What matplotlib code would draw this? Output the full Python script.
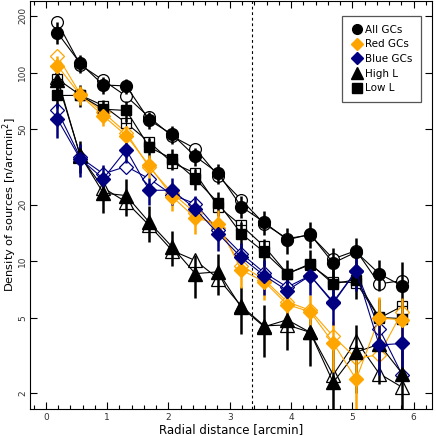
import matplotlib
matplotlib.use("Agg")
import matplotlib.pyplot as plt
from matplotlib.ticker import FixedLocator, MultipleLocator, NullLocator

# radial bin centres [arcmin]
r = [0.1875, 0.5625, 0.9375, 1.3125, 1.6875, 2.0625, 2.4375, 2.8125,
     3.1875, 3.5625, 3.9375, 4.3125, 4.6875, 5.0625, 5.4375, 5.8125]

# filled symbols (with errors) and open symbols (second estimate)
all_f = [163, 112, 86, 85, 56, 47, 36, 29.3, 19.5, 16.1, 13.0, 13.9, 9.8, 11.2, 8.6, 7.4]
all_e = [22, 12, 9, 8, 6, 5, 4, 3.5, 2.6, 2.3, 2.0, 2.2, 2.0, 2.1, 1.6, 2.5]
all_o = [185, 110, 91, 75, 58, 46, 39.6, 28.3, 21.2, 15.8, 13.2, 13.8, 10.3, 11.4, 7.6, 7.9]

red_f = [109, 76, 59, 46.4, 32.2, 22, 17, 15.8, 9.0, 7.8, 5.9, 5.4, 3.7, 2.37, 5.0, 4.9]
red_e = [14, 9, 7, 6, 4.5, 3.5, 3, 2.8, 1.8, 1.6, 1.3, 1.2, 1.1, 0.9, 1.5, 1.5]
red_o = [123, 77, 61.5, 48, 31.5, 23, 18, 15, 9.5, 8.0, 6.1, 5.5, 4.0, 3.06, 3.2, 5.4]

blue_f = [56.9, 34.9, 27.4, 39, 23.8, 23.8, 19.0, 14.0, 10.5, 8.4, 7.0, 8.4, 6.1, 8.9, 3.6, 3.67]
blue_e = [12, 7, 5, 6, 4, 3.8, 3.2, 2.6, 2.0, 1.8, 1.5, 1.8, 1.5, 1.9, 1.1, 1.2]
blue_o = [63, 35.5, 29.1, 31.8, 27.4, 22.5, 20.2, 14.6, 11.0, 8.7, 7.3, 8.4, 6.0, 8.9, 4.4, 2.5]

high_f = [91, 36.4, 23, 22.3, 16.1, 11.9, 8.6, 8.8, 5.7, 4.5, 4.9, 4.2, 2.28, 3.3, 3.64, 2.54]
high_e = [14, 7, 5, 5, 3.5, 2.5, 2.2, 2.2, 1.6, 1.4, 1.5, 1.4, 1.5, 1.3, 1.4, 1.0]
high_o = [94.5, 36, 24.5, 20.6, 15.5, 11.4, 10.1, 8.1, 5.8, 4.55, 4.6, 4.2, 2.5, 3.8, 2.54, 2.15]

low_f = [75.7, 75.7, 64, 63, 40.3, 34.9, 27.4, 20.4, 14.0, 11.2, 8.6, 9.7, 7.6, 8.0, 5.04, 4.97]
low_e = [11, 10, 8, 8, 5, 4.5, 3.6, 3.0, 2.2, 1.9, 1.6, 1.8, 1.6, 1.7, 1.3, 1.4]
low_o = [92.7, 76, 66.8, 54, 42.8, 33.3, 29.3, 19.5, 15.5, 12.0, 8.6, 9.6, 7.8, 7.7, 5.0, 5.78]

r_core = 3.36

orange = "#FFA500"
navy = "#000080"

fig = plt.figure(figsize=(4.36, 4.36), dpi=100)
ax = fig.add_axes([0.069, 0.062, 0.922, 0.936])

def draw(yf, ye, yo, color, marker, ms, open_plus=False):
    ax.plot(r, yo, color=color, lw=0.8, zorder=2)
    ax.plot(r, yo, ls="none", marker=marker, ms=ms, mfc="white", mec=color,
            mew=0.9, zorder=3)
    if open_plus:
        ax.plot(r, yo, ls="none", marker="+", ms=ms, mec=color, mew=0.9, zorder=3)
    ax.errorbar(r, yf, yerr=ye, color=color, lw=0.8, elinewidth=1.8,
                capsize=0, marker=marker, ms=ms, mfc=color, mec=color, zorder=4)

draw(high_f, high_e, high_o, "black", "^", 10)
draw(low_f, low_e, low_o, "black", "s", 7, open_plus=True)
draw(all_f, all_e, all_o, "black", "o", 8.5)
draw(red_f, red_e, red_o, orange, "D", 7.5)
draw(blue_f, blue_e, blue_o, navy, "D", 7.5)

ax.axvline(r_core, color="black", ls=(0, (2.5, 2.5)), lw=0.8, zorder=1)

ax.set_yscale("log")
ax.set_xlim(-0.256, 6.30)
ax.set_ylim(1.65, 240)
ax.yaxis.set_major_locator(FixedLocator([2, 5, 10, 20, 50, 100, 200]))
ax.yaxis.set_minor_locator(NullLocator())
ax.set_yticklabels(["2", "5", "10", "20", "50", "100", "200"])
ax.xaxis.set_major_locator(MultipleLocator(1))
ax.xaxis.set_minor_locator(MultipleLocator(0.2))
ax.tick_params(which="both", direction="in", top=True, right=True,
               labelsize=6.5, labelcolor="#333333", width=0.8)
ax.tick_params(which="major", length=5)
ax.tick_params(which="minor", length=3)
ax.tick_params(axis="y", pad=2)
ax.tick_params(axis="x", pad=3)
for lab in ax.get_yticklabels():
    lab.set_rotation(90)
    lab.set_va("center")

ax.set_xlabel("Radial distance [arcmin]", fontsize=8.5, labelpad=1)
ax.set_ylabel("Density of sources [n/arcmin$^2$]", fontsize=8.2)
ax.yaxis.set_label_coords(-0.028, 0.5)

handles = [
    plt.Line2D([], [], ls="none", marker="o", ms=7, color="black"),
    plt.Line2D([], [], ls="none", marker="D", ms=6.5, color=orange),
    plt.Line2D([], [], ls="none", marker="D", ms=6.5, color=navy),
    plt.Line2D([], [], ls="none", marker="^", ms=9, color="black"),
    plt.Line2D([], [], ls="none", marker="s", ms=7.5, color="black"),
]
leg = ax.legend(handles, ["All GCs", "Red GCs", "Blue GCs", "High L", "Low L"],
                loc="upper right", bbox_to_anchor=(0.985, 0.975), fontsize=7.5,
                fancybox=False, framealpha=1, edgecolor="#555555",
                handletextpad=0.2, labelspacing=0.45, borderpad=0.8,
                handlelength=1.2)
leg.get_frame().set_linewidth(0.9)

fig.savefig("out.png", dpi=100)
